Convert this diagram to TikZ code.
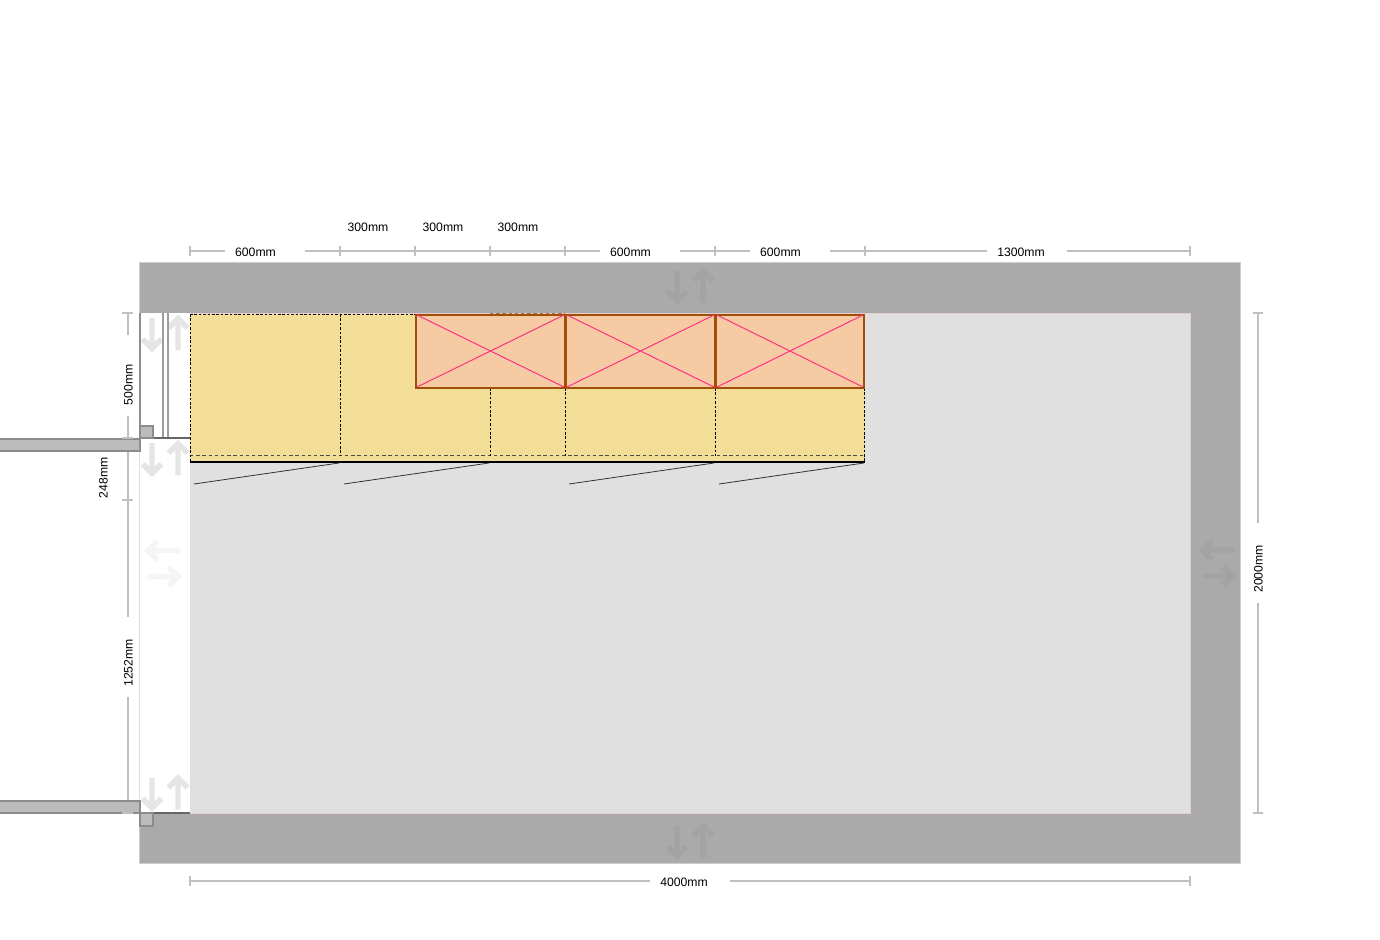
\documentclass[tikz,border=0pt]{standalone}
\usepackage{fontspec}
\setmainfont{Liberation Sans}
\usetikzlibrary{calc}
\definecolor{WallColor}{RGB}{170,170,170}
\definecolor{WallEdge}{RGB}{205,205,205}
\definecolor{WallArrow}{RGB}{163,163,163}
\definecolor{FloorColor}{RGB}{224,224,224}
\definecolor{FloorEdge}{RGB}{232,205,205}
\definecolor{StubColor}{RGB}{187,187,187}
\definecolor{StubEdge}{RGB}{140,140,140}
\definecolor{BaseColor}{RGB}{242,222,150}
\definecolor{TallColor}{RGB}{246,203,164}
\definecolor{TallEdge}{RGB}{160,78,8}
\definecolor{CrossColor}{RGB}{255,50,130}
\definecolor{DimColor}{RGB}{192,192,192}
\tikzset{
   dimline/.style={DimColor, line width=2pt},
   dimtext/.style={black, inner sep=0pt, font=\fontsize{12.2}{14}\selectfont},
   stubwall/.style={fill=StubColor, draw=StubEdge, line width=2pt},
   tallbox/.style={fill=TallColor, draw=TallEdge, line width=2pt},
   crossline/.style={CrossColor, line width=1pt},
   unitline/.style={black, dash pattern=on 2.6pt off 1.8pt, line width=0.9pt},
   frontline/.style={black!70, dash pattern=on 3.4pt off 2.8pt, line width=1.3pt},
   swingline/.style={black!80, line width=0.8pt}
}
% one pair of move arrows, #4 is rotation
\newcommand{\MoveArrows}[4]{
   \begin{scope}[shift={(#1,#2)}, rotate=#3]
      \draw [#4, line width=5.4pt, miter limit=10] (-13,-15.5) -- (-13,15) (-22.5,5.5) -- (-13,15) -- (-3.5,5.5);
      \draw [#4, line width=5.4pt, miter limit=10] (13,16.5) -- (13,-15) (3.5,-5.5) -- (13,-15) -- (22.5,-5.5);
   \end{scope}
}

\begin{document}
\begin{tikzpicture}[x=1pt, y=-1pt]
   \useasboundingbox (0,0) rectangle (1380,939);
   \def \WallL {139};
   \def \WallR {1241};
   \def \WallT {262};
   \def \WallB {864};
   \def \RoomL {190};
   \def \RoomR {1190};
   \def \RoomT {313};
   \def \RoomB {813};
   \def \TallB {388};
   \def \UnitB {462};

   % dimension lines
   \draw [dimline] (\RoomL,251) -- (225,251) (305,251) -- (565,251) (565,251) -- (600,251) (680,251) -- (750,251) (830,251) -- (987,251) (1067,251) -- (\RoomR,251);
   \draw [dimline] (\RoomL,246) -- (\RoomL,256) (340,246) -- (340,256) (415,246) -- (415,256) (490,246) -- (490,256) (565,246) -- (565,256) (715,246) -- (715,256) (865,246) -- (865,256) (\RoomR,246) -- (\RoomR,256);
   \draw [dimline] (\RoomL,881) -- (650,881) (730,881) -- (\RoomR,881) (\RoomL,876) -- (\RoomL,886) (\RoomR,876) -- (\RoomR,886);
   \draw [dimline] (1258,\RoomT) -- (1258,523) (1258,603) -- (1258,\RoomB) (1253,\RoomT) -- (1263,\RoomT) (1253,\RoomB) -- (1263,\RoomB);
   \draw [dimline] (127.5,\RoomT) -- (127.5,335) (127.5,416) -- (127.5,617) (127.5,697) -- (127.5,\RoomB);

   % walls and floor
   \fill [WallEdge] (\WallL,\WallT) rectangle (\WallR,\WallB);
   \fill [WallColor] (\WallL+0.6,\WallT+0.6) rectangle (\WallR-0.6,\WallB-0.6);
   \fill [white] (\WallL-0.5,\RoomT) rectangle (\RoomL,\RoomB);
   \draw [FloorColor, line width=0.7pt] (\WallL,451) -- (\WallL,800);
   \draw [fill=FloorColor, draw=FloorEdge, line width=1pt] (\RoomL+0.5,\RoomT) rectangle (\RoomR,\RoomB);
   \draw [FloorColor, line width=1pt] (\RoomL+0.5,\RoomT) -- (\RoomL+0.5,\RoomB);

   % move arrows
   \MoveArrows{165}{333.5}{0}{black!10}
   \MoveArrows{165}{458.5}{0}{black!10}
   \MoveArrows{165}{793}{0}{black!10}
   \MoveArrows{163}{563.5}{90}{black!4}
   \MoveArrows{1217.5}{563}{90}{WallArrow}
   \MoveArrows{690}{286}{0}{WallArrow}
   \MoveArrows{690}{841}{0}{WallArrow}

   % window side
   \draw [StubEdge, line width=2pt] (140,\RoomT) -- (140,438);
   \draw [StubEdge!85, line width=2pt] (162.5,\RoomT) -- (162.5,438) (167.5,\RoomT) -- (167.5,438);
   \draw [black!60, line width=2pt] (153,438) -- (\RoomL,438);
   \draw [black!60, line width=2pt] (153,\RoomB) -- (\RoomL,\RoomB);
   \draw [stubwall] (140,426) rectangle (153,438);
   \draw [stubwall] (140,\RoomB) rectangle (153,825.5);
   \draw [stubwall] (-3,439) rectangle (140,451);
   \draw [stubwall] (-3,801) rectangle (140,\RoomB);
   \draw [dimline] (122,\RoomT) -- (133,\RoomT) (122,438) -- (133,438) (122,500) -- (133,500) (122,\RoomB) -- (133,\RoomB);

   % base units
   \fill [BaseColor] (\RoomL,314) rectangle (865,\UnitB);
   \draw [frontline] (\RoomL,455.5) -- (865,455.5);
   \draw [unitline] (\RoomL,314) -- (\RoomL,\UnitB) (340,314) -- (340,455.5) (490,\TallB) -- (490,455.5) (565,\TallB) -- (565,455.5) (715,\TallB) -- (715,455.5) (864.5,\TallB) -- (864.5,\UnitB);
   \draw [unitline] (\RoomL,314) -- (416,314);
   \draw [black, line width=1.8pt] (\RoomL,462) -- (865,462);

   % tall units
   \draw [frontline, TallEdge!60!WallColor, line width=0.8pt] (490,313) -- (565,313);
   \draw [tallbox] (416,315) rectangle (564.5,387.5);
   \draw [tallbox] (566,315) rectangle (714.5,387.5);
   \draw [tallbox] (716,315) rectangle (864,387.5);
   \draw [crossline] (417,315) -- (564,387) (417,387) -- (564,315);
   \draw [crossline] (567,315) -- (714,387) (567,387) -- (714,315);
   \draw [crossline] (717,315) -- (863,387) (717,387) -- (863,315);

   % door swings
   \draw [swingline] (194,484) -- (339,463);
   \draw [swingline] (344,484) -- (489,463);
   \draw [swingline] (569,484) -- (714,463);
   \draw [swingline] (719,484) -- (864,463);

   % texts
   \node [dimtext] (textA) at (255.5,252) {600mm};
   \node [dimtext] (textB) at (368,227) {300mm};
   \node [dimtext] (textC) at (443,227) {300mm};
   \node [dimtext] (textD) at (518,227) {300mm};
   \node [dimtext] (textE) at (630.5,252) {600mm};
   \node [dimtext] (textF) at (780.5,252) {600mm};
   \node [dimtext] (textG) at (1021,252) {1300mm};
   \node [dimtext] (textH) at (684,882) {4000mm};
   \node [dimtext, rotate=90] (textI) at (1258.5,569) {2000mm};
   \node [dimtext, rotate=90] (textJ) at (128.5,385) {500mm};
   \node [dimtext, rotate=90] (textK) at (103.5,478) {248mm};
   \node [dimtext, rotate=90] (textL) at (128.5,663) {1252mm};
\end{tikzpicture}
\end{document}
